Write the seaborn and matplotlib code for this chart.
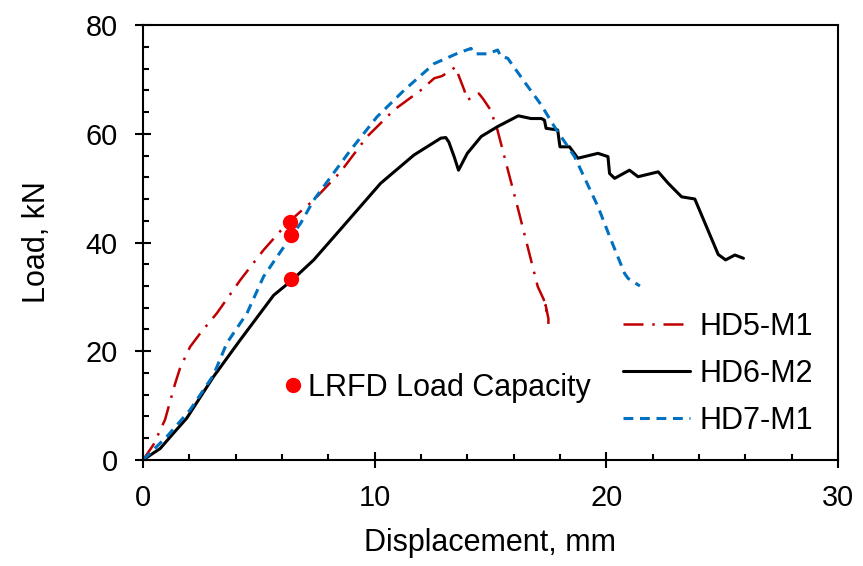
import numpy as np
import pandas as pd
import matplotlib
matplotlib.use("Agg")
import matplotlib.pyplot as plt
import seaborn as sns
from matplotlib.lines import Line2D
from matplotlib.ticker import MultipleLocator

# ---- data ----
hd5_x = [0, 0.45, 0.95, 1.39, 1.6, 2.03, 2.47, 3.19, 4.2, 5.2, 6.22, 6.8, 7.37, 8.53, 9.68,
         10.84, 11.99, 12.57, 12.9, 13.2, 13.5, 13.6, 13.87, 14.0, 14.5, 14.7, 15.0, 15.3,
         16.2, 17.04, 17.3, 17.45, 17.38, 17.5, 17.5]
hd5_y = [0, 2.8, 7.4, 14.1, 16.9, 20.8, 23.3, 27.0, 33.1, 38.6, 43.5, 45.7, 47.8, 53.0, 59.5,
         64.4, 68.0, 70.2, 70.6, 71.4, 72.3, 71.0, 68.0, 66.2, 67.4, 66.3, 64.4, 60.7,
         46.0, 31.9, 29.5, 27.0, 28.5, 26.0, 24.7]

hd6_x = [0, 0.74, 1.31, 1.89, 3.04, 4.2, 5.64, 6.44, 7.37, 8.5, 10.26, 11.7, 12.86, 13.07,
         13.2, 13.43, 13.62, 14.0, 14.6, 15.3, 16.2, 16.75, 17.2, 17.33, 17.4, 17.9, 18.0,
         18.41, 18.77, 19.64, 20.07, 20.14, 20.36, 21.0, 21.37, 22.24, 22.67, 23.25, 23.82,
         24.83, 25.15, 25.55, 25.92]
hd6_y = [0, 2.1, 4.9, 7.7, 15.3, 22.1, 30.3, 33.1, 36.8, 42.3, 50.9, 56.1, 59.2, 59.3,
         58.5, 55.8, 53.3, 56.4, 59.5, 61.3, 63.3, 62.8, 62.8, 62.5, 61.0, 60.7, 57.6,
         57.6, 55.5, 56.4, 55.8, 52.7, 51.8, 53.3, 52.1, 53.0, 50.9, 48.4, 48.0,
         37.8, 36.8, 37.7, 37.1]

hd7_x = [0, 1.03, 2.03, 3.04, 3.62, 4.49, 5.2, 5.79, 6.44, 6.8, 7.37, 7.8, 8.96, 10.1, 11.27,
         12.57, 13.58, 14.16, 14.3, 14.88, 15.31, 15.45, 15.74, 16.61, 17.19, 17.76, 18.63,
         19.64, 20.2, 20.79, 20.94, 21.45]
hd7_y = [0, 4.3, 9.2, 15.6, 21.5, 27.0, 33.7, 37.4, 41.4, 43.5, 47.8, 50.3, 57.0, 63.1, 68.0,
         72.9, 74.8, 75.7, 74.7, 74.7, 75.4, 74.2, 73.9, 68.7, 65.3, 61.3, 55.8,
         46.6, 40.5, 34.3, 33.4, 32.0]

lrfd_x = [6.35, 6.4, 6.4]
lrfd_y = [43.8, 41.3, 33.2]

series_names = ["HD5-M1", "HD6-M2", "HD7-M1"]
x_ticks = [0, 10, 20, 30]
y_ticks = [0, 20, 40, 60, 80]

# ---- styling ----
sns.set_theme(style="white")
plt.rcParams['font.family'] = ['Liberation Sans', 'DejaVu Sans']
plt.rcParams['text.color'] = 'black'
plt.rcParams['axes.labelcolor'] = 'black'
plt.rcParams['xtick.color'] = 'black'
plt.rcParams['ytick.color'] = 'black'

fig = plt.figure(figsize=(8.63, 5.66), dpi=100)
ax = fig.add_axes([0.1657, 0.1873, 0.8053, 0.7685])

df5 = pd.DataFrame({"x": hd5_x, "y": hd5_y})
df6 = pd.DataFrame({"x": hd6_x, "y": hd6_y})
df7 = pd.DataFrame({"x": hd7_x, "y": hd7_y})

red = "#C00000"
blue = "#0070C0"
sns.lineplot(data=df5, x="x", y="y", sort=False, estimator=None, ax=ax,
             color=red, lw=1.8, linestyle=(0, (8, 3.5, 1, 3.5)))
sns.lineplot(data=df6, x="x", y="y", sort=False, estimator=None, ax=ax,
             color="black", lw=2.2, linestyle="-")
sns.lineplot(data=df7, x="x", y="y", sort=False, estimator=None, ax=ax,
             color=blue, lw=2.2, linestyle=(0, (3.2, 2.2)))
ax.plot(lrfd_x, lrfd_y, linestyle="none", marker="o", markersize=10,
        color="#FF0000", zorder=5)

ax.set_xlim(0, 30)
ax.set_ylim(0, 80)
ax.set_xticks(x_ticks)
ax.set_yticks(y_ticks)
ax.xaxis.set_minor_locator(MultipleLocator(2))
ax.yaxis.set_minor_locator(MultipleLocator(4))
ax.tick_params(which="major", direction="inout", length=12, width=1.5,
               labelsize=20.8, colors="black")
ax.tick_params(axis="x", which="major", pad=11)
ax.tick_params(axis="y", which="major", pad=12)
ax.tick_params(which="minor", direction="in", length=4, width=1.5, colors="black")
ax.tick_params(axis="x", which="both", bottom=True, top=False)
ax.tick_params(axis="y", which="both", left=True, right=False)
for s in ax.spines.values():
    s.set_color("black")
    s.set_linewidth(1.5)

ax.set_xlabel("Displacement, mm", fontsize=22, color="black", labelpad=12)
ax.set_ylabel("Load, kN", fontsize=22, color="black", labelpad=24)

handles = [
    Line2D([], [], color=red, lw=1.8, linestyle=(0, (8, 3.5, 1, 3.5))),
    Line2D([], [], color="black", lw=2.2),
    Line2D([], [], color=blue, lw=2.2, linestyle=(0, (3.2, 2.2))),
]
leg1 = ax.legend(handles, series_names, loc="center left",
                 bbox_to_anchor=(0.6906, 0.198), frameon=False, fontsize=22,
                 borderpad=0, borderaxespad=0, handlelength=2.2,
                 handletextpad=0.3, labelspacing=0.55, labelcolor="black")
ax.add_artist(leg1)
h2 = Line2D([], [], linestyle="none", marker="o", markersize=10, color="#FF0000")
ax.legend([h2], ["LRFD Load Capacity"], loc="center left",
          bbox_to_anchor=(0.2024, 0.1655), frameon=False, fontsize=22,
          borderpad=0, borderaxespad=0, handlelength=0.6, handletextpad=0.2,
          labelcolor="black")

fig.savefig("out.png", dpi=100)
